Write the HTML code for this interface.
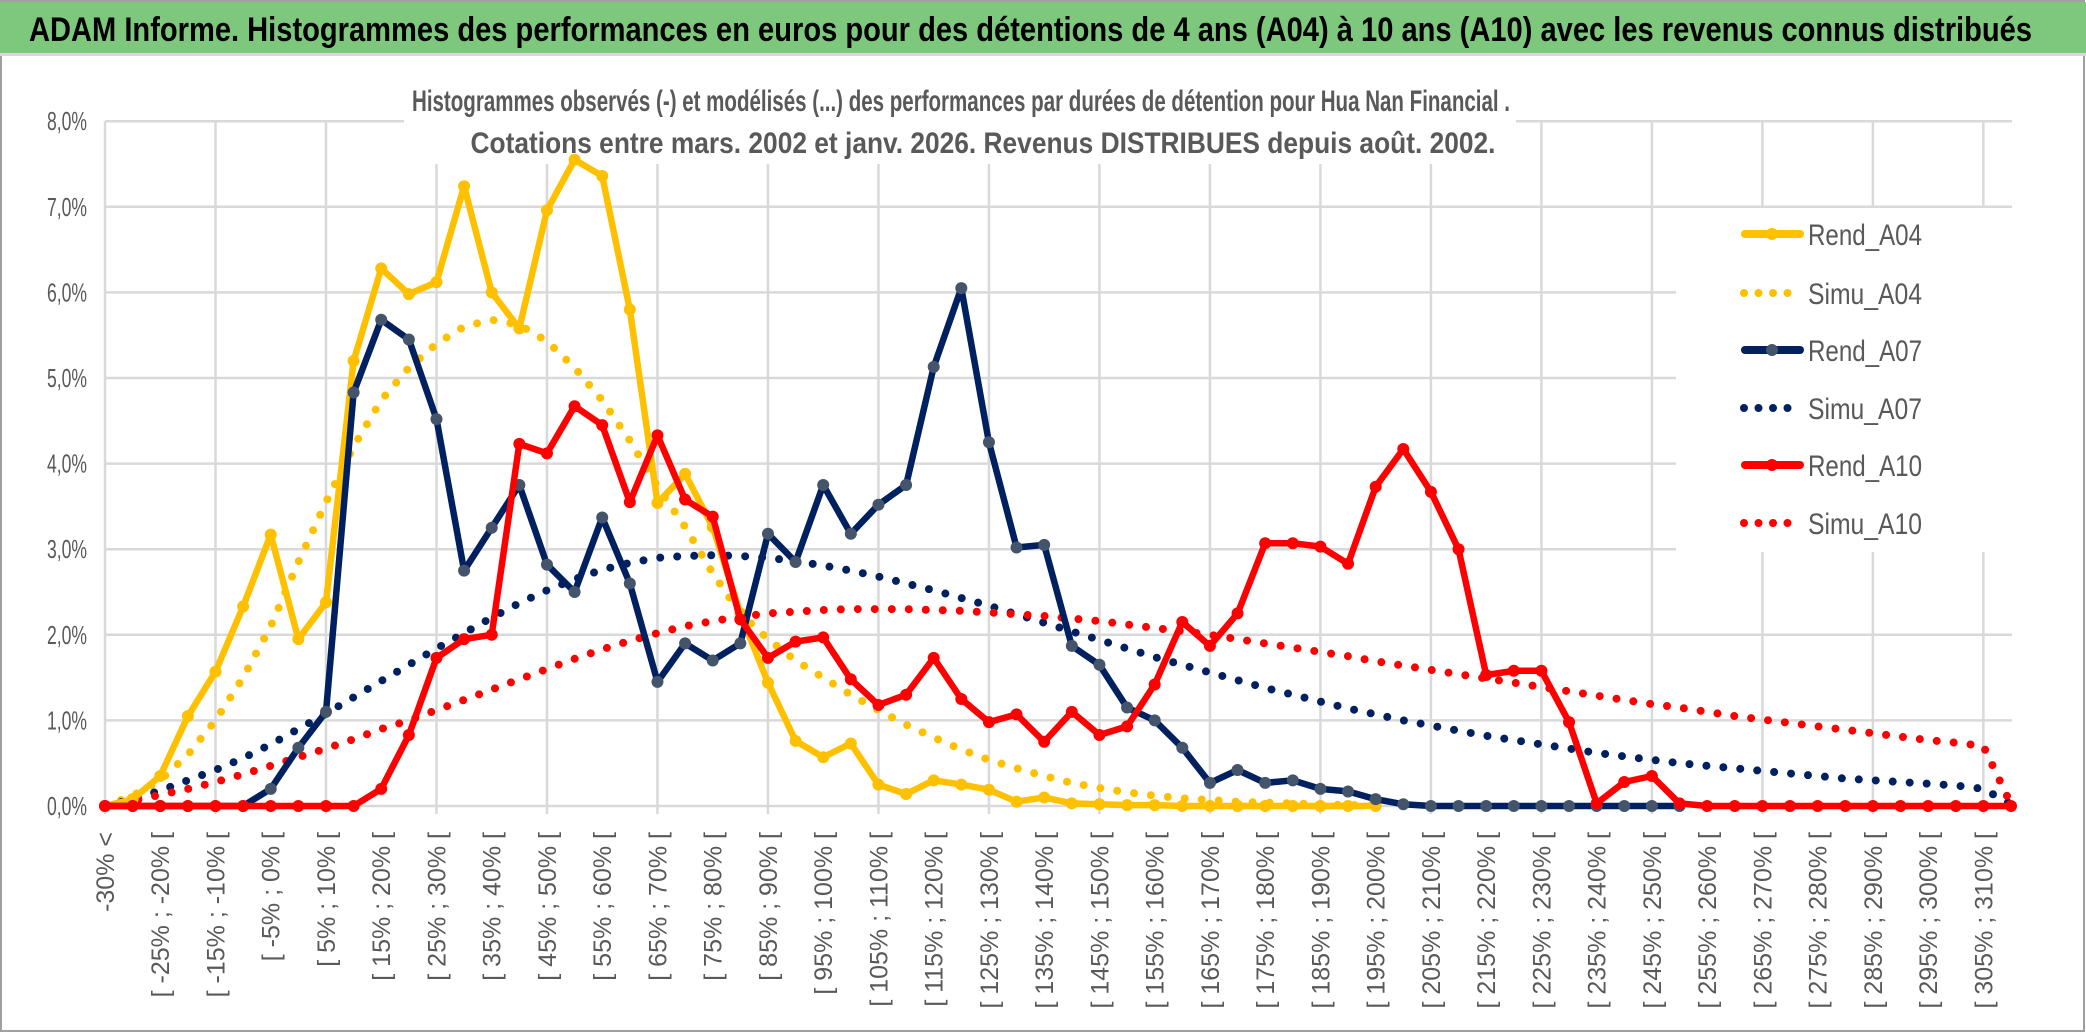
<!DOCTYPE html>
<html><head><meta charset="utf-8"><style>
html,body{margin:0;padding:0;background:#fff;}
svg{display:block;}
text{font-family:"Liberation Sans",sans-serif;}
</style></head><body>
<svg id="chart" width="2086" height="1033" viewBox="0 0 2086 1033" xmlns="http://www.w3.org/2000/svg">
<rect x="0" y="0" width="2086" height="1033" fill="#fff"/>
<rect x="1" y="1" width="2083" height="1030" fill="none" stroke="#a0a0a0" stroke-width="2"/>
<rect x="0" y="2" width="2086" height="51" fill="#7dc87d"/>
<rect x="0" y="53" width="2086" height="3" fill="#d9d9d9"/>
<text x="29" y="41" font-size="34" font-weight="bold" fill="#000" textLength="2003" lengthAdjust="spacingAndGlyphs">ADAM Informe. Histogrammes des performances en euros pour des détentions de 4 ans (A04) à 10 ans (A10) avec les revenus connus distribués</text>
<g id="grid"></g>
<rect x="404" y="78" width="1112" height="86" fill="#fff"/>
<text x="961" y="111" font-size="30" font-weight="bold" fill="#595959" text-anchor="middle" textLength="1098" lengthAdjust="spacingAndGlyphs">Histogrammes observés (-) et modélisés (...) des performances par durées de détention pour Hua Nan Financial .</text>
<text x="983" y="153" font-size="30" font-weight="bold" fill="#595959" text-anchor="middle" textLength="1025" lengthAdjust="spacingAndGlyphs">Cotations entre mars. 2002 et janv. 2026. Revenus DISTRIBUES depuis août. 2002.</text>
<g id="ylabels"></g>
<g id="xlabels"></g>
<g id="series"></g>
<g id="legend"></g>
</svg>
<script>
const categories = (function(){ const c=["-30% <"]; for(let a=-30;a<=310;a+=5){ c.push("[ "+a+"% ; "+(a+5)+"% ["); } return c; })();
const yTicks = [0,1,2,3,4,5,6,7,8];
const yTickLabels = ["0,0%","1,0%","2,0%","3,0%","4,0%","5,0%","6,0%","7,0%","8,0%"];
const rendA04 = [0,0.08,0.35,1.05,1.57,2.33,3.17,1.95,2.38,5.2,6.28,5.98,6.12,7.24,6.0,5.58,6.96,7.55,7.36,5.8,3.54,3.88,3.26,2.25,1.44,0.76,0.57,0.73,0.25,0.14,0.3,0.25,0.19,0.05,0.1,0.03,0.02,0.01,0.01,0,0,0,0,0,0,0,0];
const simuA04 = [0,0.12,0.3,0.6,1.0,1.5,2.1,2.85,3.55,4.2,4.74,5.12,5.4,5.6,5.68,5.62,5.43,5.12,4.74,4.27,3.73,3.26,2.72,2.25,1.95,1.7,1.5,1.3,1.12,0.95,0.8,0.66,0.54,0.44,0.35,0.27,0.21,0.16,0.12,0.09,0.07,0.05,0.04,0.03,0.02,0.01,0.01];
const rendA07 = [0,0,0,0,0,0,0.2,0.68,1.1,4.83,5.68,5.45,4.52,2.75,3.25,3.75,2.82,2.5,3.37,2.6,1.45,1.9,1.7,1.9,3.18,2.85,3.75,3.18,3.52,3.75,5.13,6.05,4.25,3.02,3.05,1.87,1.65,1.15,1.0,0.68,0.27,0.42,0.27,0.3,0.2,0.17,0.08,0.02,0,0,0,0,0,0,0,0,0,0];
const simuA07 = [0,0.08,0.18,0.3,0.42,0.56,0.72,0.9,1.08,1.27,1.46,1.65,1.84,2.02,2.2,2.37,2.52,2.65,2.76,2.84,2.9,2.92,2.93,2.92,2.9,2.86,2.81,2.75,2.68,2.6,2.52,2.43,2.34,2.24,2.14,2.04,1.94,1.84,1.74,1.65,1.56,1.47,1.38,1.3,1.22,1.14,1.07,1.0,0.94,0.88,0.82,0.77,0.72,0.67,0.62,0.58,0.54,0.5,0.47,0.44,0.41,0.38,0.35,0.32,0.3,0.28,0.26,0.24,0.2,0.02];
const rendA10 = [0,0,0,0,0,0,0,0,0,0,0.2,0.83,1.73,1.95,2.0,4.23,4.12,4.67,4.45,3.55,4.33,3.58,3.38,2.18,1.73,1.92,1.97,1.48,1.18,1.3,1.73,1.25,0.98,1.07,0.75,1.1,0.83,0.93,1.42,2.15,1.87,2.25,3.07,3.07,3.03,2.83,3.73,4.17,3.67,3.0,1.53,1.58,1.58,0.98,0.03,0.28,0.35,0.03,0,0,0,0,0,0,0,0,0,0,0,0];
const simuA10 = [0,0.06,0.13,0.2,0.28,0.37,0.47,0.57,0.67,0.78,0.9,1.0,1.12,1.24,1.36,1.48,1.6,1.72,1.83,1.93,2.02,2.1,2.16,2.21,2.25,2.27,2.29,2.3,2.3,2.3,2.29,2.28,2.26,2.24,2.22,2.19,2.16,2.12,2.08,2.04,2.0,1.95,1.9,1.85,1.8,1.75,1.69,1.64,1.59,1.54,1.49,1.44,1.39,1.34,1.29,1.24,1.19,1.15,1.1,1.05,1.01,0.97,0.93,0.89,0.85,0.81,0.77,0.74,0.7,0.02];

const NS="http://www.w3.org/2000/svg";
const X0=105, STEP=(2011-105)/69, Y0=806, YU=85.6, XR=2012;
function xs(i){return X0+i*STEP;}
function ys(v){return Y0-v*YU;}
function mk(tag,attrs,parent){const e=document.createElementNS(NS,tag);for(const k in attrs)e.setAttribute(k,attrs[k]);parent.appendChild(e);return e;}

const grid=document.getElementById('grid');
yTicks.forEach(function(t){
  const l=mk('line',{x1:X0,x2:XR,y1:ys(t),y2:ys(t),stroke:'#d9d9d9','stroke-width':2.5},grid);
  
  
});
for(let i=0;i<categories.length;i+=4){
  const l=mk('line',{x1:xs(i),x2:xs(i),y1:ys(8),y2:ys(0)+8,stroke:'#d9d9d9','stroke-width':2.5},grid);
  
  
}
const yl=document.getElementById('ylabels');
yTicks.forEach(function(t,k){
  const e=mk('text',{x:87,y:ys(t)+9,'font-size':26,fill:'#595959','text-anchor':'end',textLength:40,lengthAdjust:'spacingAndGlyphs'},yl);
  e.textContent=yTickLabels[k];
  
  
});
const xl=document.getElementById('xlabels');
for(let i=0;i<categories.length;i+=2){
  const x=xs(i)+9, y=832;
  const e=mk('text',{x:x,y:y,'font-size':25,fill:'#595959','text-anchor':'end',transform:'rotate(-90 '+x+' '+y+')'},xl);
  e.textContent=categories[i];
  
  
}
const sg=document.getElementById('series');
function pts(arr){return arr.map(function(v,i){return xs(i).toFixed(1)+','+ys(v).toFixed(1);}).join(' ');}
function dotted(arr,color,name){
  const p=mk('polyline',{points:pts(arr),fill:'none',stroke:color,'stroke-width':8,'stroke-linecap':'round','stroke-dasharray':'0 17'},sg);
  
  
}
function solid(arr,color,mcolor,name){
  const g=mk('g',{},sg);
  
  
  mk('polyline',{points:pts(arr),fill:'none',stroke:color,'stroke-width':6.5,'stroke-linejoin':'round'},g);
  arr.forEach(function(v,i){
    const c=mk('circle',{cx:xs(i),cy:ys(v),r:6,fill:mcolor},g);
    
    
  });
}
dotted(simuA04,'#ffc000','simu-a04-line');
dotted(simuA07,'#002060','simu-a07-line');
dotted(simuA10,'#ff0000','simu-a10-line');
solid(rendA04,'#ffc000','#ffc000','rend-a04-line');
solid(rendA07,'#002060','#44546a','rend-a07-line');
solid(rendA10,'#ff0000','#ff0000','rend-a10-line');

const lg=document.getElementById('legend');
mk('rect',{x:1676,y:208,width:336,height:344,fill:'#fff'},lg);
const entries=[["Rend_A04",'#ffc000','#ffc000',false],["Simu_A04",'#ffc000',null,true],["Rend_A07",'#002060','#44546a',false],["Simu_A07",'#002060',null,true],["Rend_A10",'#ff0000','#ff0000',false],["Simu_A10",'#ff0000',null,true]];
const rowsY=[234,293,350,408,465,523];
entries.forEach(function(en,k){
  const y=rowsY[k];
  const g=mk('g',{},lg);
  
  
  if(en[3]){
    mk('line',{x1:1744,x2:1800,y1:y,y2:y,stroke:en[1],'stroke-width':8,'stroke-linecap':'round','stroke-dasharray':'0 14.5'},g);
  } else {
    mk('line',{x1:1745,x2:1800,y1:y,y2:y,stroke:en[1],'stroke-width':8,'stroke-linecap':'round'},g);
    mk('circle',{cx:1772,cy:y,r:6,fill:en[2]},g);
  }
  const t=mk('text',{x:1808,y:y+11,'font-size':30,fill:'#595959',textLength:114,lengthAdjust:'spacingAndGlyphs'},g);
  t.textContent=en[0];
});
</script>
</body></html>
